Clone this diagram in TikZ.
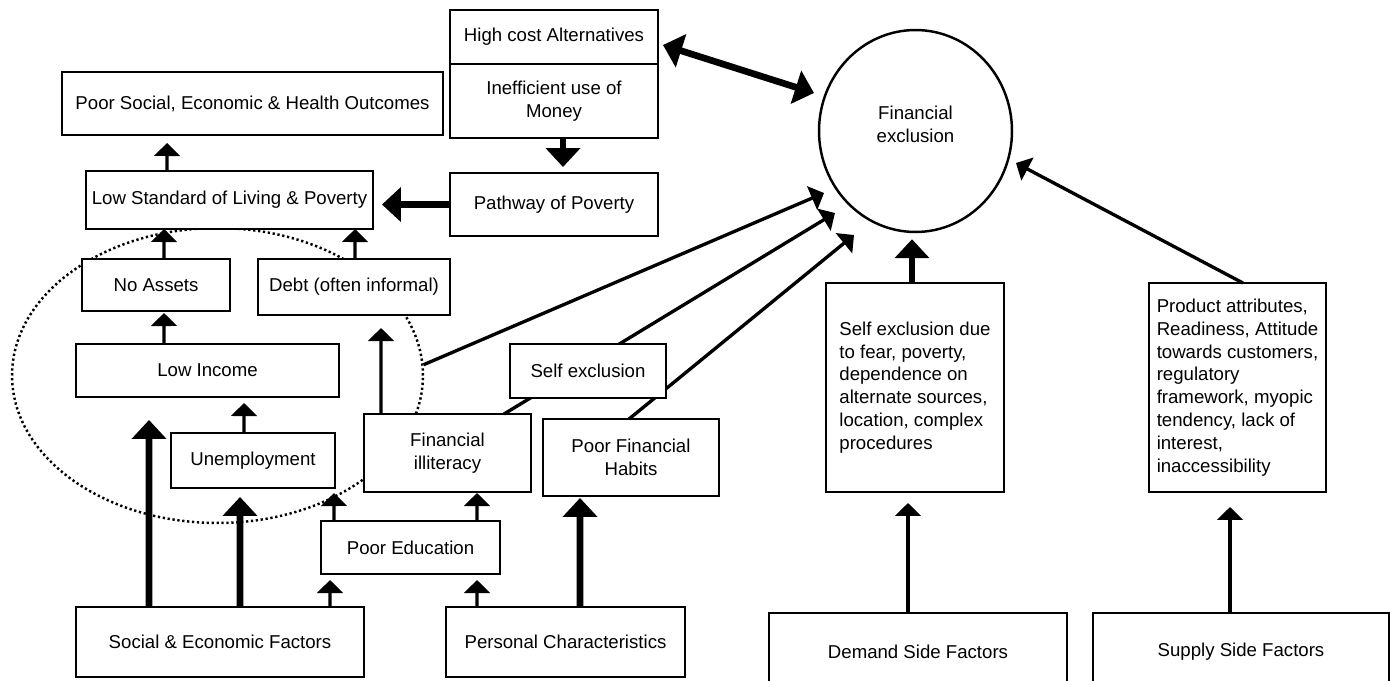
\documentclass[tikz,border=0pt]{standalone}
\usepackage{fontspec}
\setmainfont{Liberation Sans}
\usepackage{tikz}
\usetikzlibrary{positioning}
\usetikzlibrary{calc}
\usetikzlibrary{arrows.meta, shapes.geometric}
\tikzset{
	box/.style = {rectangle, draw, fill=white, line width=1.4pt, outer sep=0pt, inner sep=2pt, align=center, font=\fontsize{10.6}{13}\selectfont},
	listbox/.style = {box, align=left},
	wh/.style 2 args = {minimum width=#1cm, minimum height=#2cm},
	group/.style = {ellipse, draw, line width=1.4pt, dash pattern=on 1.3pt off 1.5pt, inner sep=0pt, minimum width=8.22cm, minimum height=5.9cm},
	outcome/.style = {ellipse, draw, fill=white, line width=1.4pt, inner sep=0pt, align=center, font=\fontsize{10.6}{13}\selectfont},
	conn/.style = {-{Triangle[length=7.4pt,width=14.5pt]}, line width=1.9pt},
	heavy/.style = {-{Triangle[length=10.8pt,width=19.3pt]}, line width=3.8pt},
	mutual/.style = {heavy, {Triangle[length=10.8pt,width=19.3pt]}-{Triangle[length=10.8pt,width=19.3pt]}}
}

\begin{document}
\begin{tikzpicture}[x=0.02cm, y=-0.02cm]
	\useasboundingbox (0,0) rectangle (1390,680);
	% dotted group
	\node (grp) [group] at (217.5,375.5) {};

	\node (hca) [box, wh={4.16}{1.08}] at (554,37) {High cost Alternatives};
	\node (ineff) [box, wh={4.16}{1.48}, below = 0pt of hca] {Inefficient use of\\Money};
	\node (posoc) [box, wh={7.62}{1.26}] at (252.5,103.5) {Poor Social, Economic \& Health Outcomes};
	\node (lowstd) [box, wh={5.74}{1.16}] at (229.5,200) {Low Standard of Living \& Poverty};
	\node (pathway) [box, wh={4.16}{1.26}] at (554,204.5) {Pathway of Poverty};
	\node (noassets) [box, wh={2.96}{1.04}] at (156,285) {No Assets};
	\node (debt) [box, wh={3.84}{1.12}] at (354,287) {Debt (often informal)};
	\node (lowinc) [box, wh={5.26}{1.06}] at (207.5,370.5) {Low Income};
	\node (unemp) [box, wh={3.28}{1.10}] at (253,460.5) {Unemployment};
	\node (finill) [box, wh={3.34}{1.56}] at (447.5,453) {Financial\\illiteracy};
	\node (habits) [box, wh={3.52}{1.54}] at (631,457.5) {Poor Financial\\Habits};
	\node (poored) [box, wh={3.58}{1.06}] at (410.5,547.5) {Poor Education};
	\node (social) [box, wh={5.76}{1.40}] at (220,642) {Social \& Economic Factors};
	\node (personal) [box, wh={4.78}{1.40}] at (565.5,642) {Personal Characteristics};

	\node (finex) [outcome, wh={3.86}{4.04}] at (915.5,131) {Financial\\exclusion\\[-0.18cm]};
	\node (demtext) [listbox, wh={3.56}{4.18}] at (915,387.5) {Self exclusion due\\to fear, poverty,\\dependence on\\alternate sources,\\location, complex\\procedures};
	\node (suptext) [listbox, wh={3.54}{4.18}] at (1237.5,387.5) {Product attributes,\\Readiness, Attitude\\towards customers,\\regulatory\\framework, myopic\\tendency, lack of\\interest,\\inaccessibility};
	\node (demand) [box, wh={5.96}{1.54}] at (918,651.5) {Demand Side Factors};
	\node (supply) [box, wh={5.92}{1.54}] at (1241,651.5) {Supply Side Factors};

	% left hand chain
	\draw[conn] ($(lowstd.north west)+(81,0)$) -- ($(posoc.south west)+(105,8)$);
	\draw[conn] ($(noassets.north west)+(82,0)$) -- ($(lowstd.south west)+(78,0)$);
	\draw[conn] ($(debt.north west)+(97,0)$) -- ($(lowstd.south west)+(269,0)$);
	\draw[conn] ($(lowinc.north west)+(88,0)$) -- ($(noassets.south west)+(82,2)$);
	\draw[conn] ($(unemp.north west)+(73,0)$) -- ($(lowinc.south west)+(168,6)$);
	\draw[heavy] ($(social.north west)+(73,0)$) -- ($(lowinc.south west)+(73,23)$);
	\draw[heavy] ($(social.north west)+(164,0)$) -- ($(unemp.south west)+(69,9)$);
	\draw[conn] ($(social.north west)+(254,0)$) -- ($(poored.south west)+(9,6)$);
	\draw[conn] ($(personal.north west)+(31,0)$) -- ($(poored.south west)+(156,6)$);
	\draw[heavy] ($(personal.north west)+(134,0)$) -- ($(habits.south west)+(37,2)$);
	\draw[conn] ($(poored.north west)+(13,0)$) -- ($(unemp.south east)+(-1,5)$);
	\draw[conn] ($(poored.north west)+(156,0)$) -- ($(finill.south west)+(113,1)$);
	\draw[conn] ($(finill.north west)+(17,0)$) -- ($(debt.south west)+(123,13)$);
	\draw[heavy] ($(ineff.south)+(9,0)$) -- ($(pathway.north)+(9,-6)$);
	\draw[heavy] (pathway.west) -- ($(lowstd.east)+(9,4.5)$);
	\draw[mutual] ($(hca.east)+(5,8)$) -- ($(finex.center)+(-101.5,-38)$);

	% into financial exclusion
	\draw[conn] (grp.3) -- ($(finex.center)+(-91.5,62)$);
	\draw[conn] ($(finill.north east)+(-27,0)$) -- ($(finex.center)+(-80.5,82)$);
	\draw[conn] ($(habits.north west)+(86,0)$) -- ($(finex.center)+(-61.5,104)$);
	\draw[heavy] ($(demtext.north)+(-3,0)$) -- ($(finex.south)+(-3.5,6)$);
	\draw[conn] ($(suptext.north)+(5.5,0)$) -- ($(finex.center)+(100.5,32)$);
	\draw[conn] ($(demand.north)+(-10,0)$) -- ($(demtext.south)+(-7,11)$);
	\draw[conn] ($(supply.north)+(-11,0)$) -- ($(suptext.south)+(-7.5,15)$);

	\node (selfex) [box, wh={3.12}{1.08}] at (588,371) {Self exclusion};
\end{tikzpicture}
\end{document}
